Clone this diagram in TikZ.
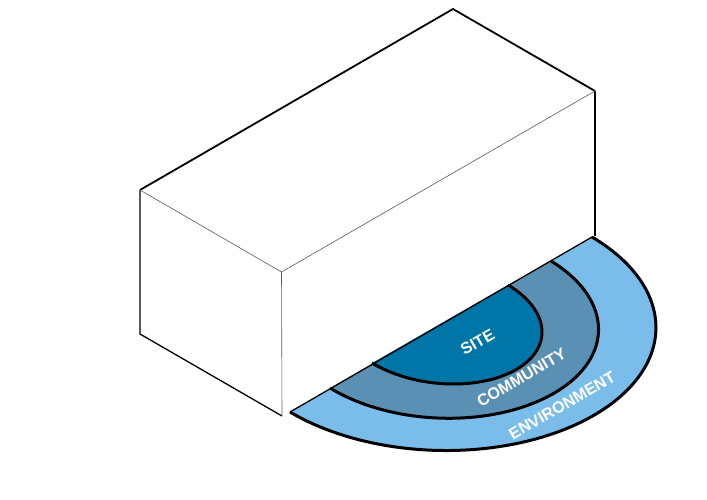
\documentclass[tikz,border=0pt]{standalone}
\usepackage{fontspec}
\setmainfont{Liberation Sans}
\usepackage{xcolor}
\definecolor{siteblue}{HTML}{0076A8}
\definecolor{communityblue}{HTML}{5B90B5}
\definecolor{environmentblue}{HTML}{7BBDEA}
\begin{document}
\begin{tikzpicture}[x=1pt,y=-1pt]

		\tikzset{heavy/.style={draw=black,line width=1.8pt,line join=miter}}
		\tikzset{medium/.style={draw=black,line width=1.3pt}}
		\tikzset{hair/.style={draw=black!65,line width=0.6pt}}
		\tikzset{ring/.style={draw=black,line width=3pt}}
		\tikzset{word/.style={text=white,font=\bfseries\fontsize{16.2}{16}\selectfont,rotate=30,inner sep=0pt}}

		\def\envarc{plot[domain=0:180,samples=90,variable=\t] ({441+151*cos(\t)+153*sin(\t)},{324.5-87.5*cos(\t)+90.7*sin(\t)})}
		\def\comarc{plot[domain=0:180,samples=90,variable=\t] ({440.5+110.5*cos(\t)+113*sin(\t)},{324.5-63.5*cos(\t)+69*sin(\t)})}
		\def\sitearc{plot[domain=0:180,samples=90,variable=\t] ({440+68*cos(\t)+76*sin(\t)},{324-39*cos(\t)+45.6*sin(\t)})}

		\useasboundingbox (0, 0) rectangle (707, 499);

		% Corners of the block.
		\coordinate (top) at (453, 9);
		\coordinate (right) at (595, 91);
		\coordinate (left) at (140, 190);
		\coordinate (front) at (281.5, 272);
		\coordinate (leftbase) at (140, 334);
		\coordinate (frontbase) at (282, 416);
		\coordinate (rightbase) at (595, 236);

		\draw[medium] (left) -- (leftbase) -- (frontbase);
		\draw[medium] (right) -- (rightbase);
		\draw[heavy] (left) -- (top) -- (right);
		\draw[hair] (left) -- (front) -- (right);
		\draw[hair] (front) -- (frontbase);


		% Half rings, largest first.
		\coordinate (envend) at (592, 237);
		\coordinate (envstart) at (290, 412);

		\path[fill=environmentblue] \envarc -- cycle;
		\path[fill=communityblue] \comarc -- cycle;
		\path[fill=siteblue] \sitearc -- cycle;

		\draw[medium] (envstart) -- (envend);

		\draw[ring] \envarc;
		\draw[ring] \comarc;
		\draw[ring] \sitearc;


		\node[word] (site) at (477.5, 342) {SITE};
		\node[word] (community) at (521.5, 377.5) {COMMUNITY};
		\node[word] (environment) at (562, 405.5) {ENVIRONMENT};

	\end{tikzpicture}
\end{document}
